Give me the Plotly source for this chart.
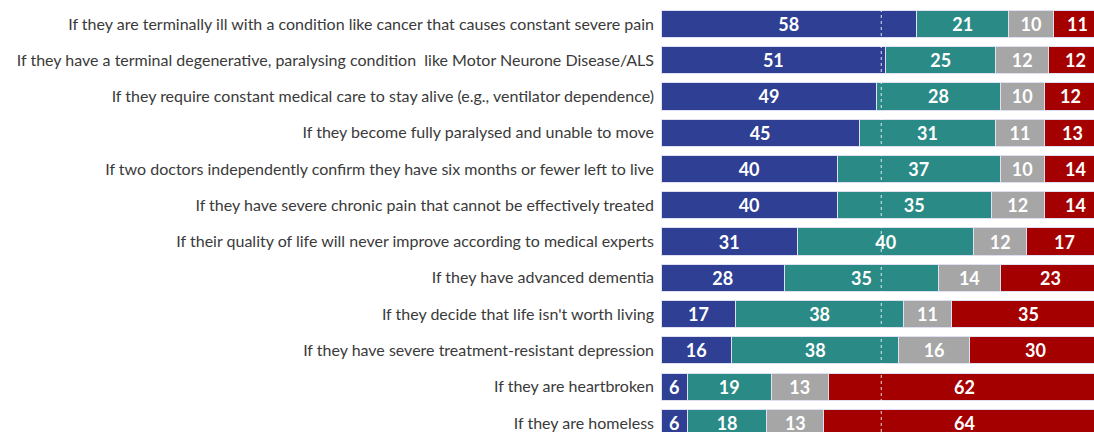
import plotly.graph_objects as go

# Conditions (top to bottom)
conditions = [
    "If they are terminally ill with a condition like cancer that causes constant severe pain",
    "If they have a terminal degenerative, paralysing condition \u00a0like Motor Neurone Disease/ALS",
    "If they require constant medical care to stay alive (e.g., ventilator dependence)",
    "If they become fully paralysed and unable to move",
    "If two doctors independently confirm they have six months or fewer left to live",
    "If they have severe chronic pain that cannot be effectively treated",
    "If their quality of life will never improve according to medical experts",
    "If they have advanced dementia",
    "If they decide that life isn't worth living",
    "If they have severe treatment-resistant depression",
    "If they are heartbroken",
    "If they are homeless",
]

blue_vals = [58, 51, 49, 45, 40, 40, 31, 28, 17, 16, 6, 6]
teal_vals = [21, 25, 28, 31, 37, 35, 40, 35, 38, 38, 19, 18]
grey_vals = [10, 12, 10, 11, 10, 12, 12, 14, 11, 16, 13, 13]
red_vals = [11, 12, 12, 13, 14, 14, 17, 23, 35, 30, 62, 64]

series = [
    (blue_vals, '#2e3f94'),
    (teal_vals, '#2a8a86'),
    (grey_vals, '#a6a6a6'),
    (red_vals, '#a50000'),
]

num_font = dict(family='Lato', size=18, color='white', weight='bold')

fig = go.Figure()
for i, (vals, color) in enumerate(series):
    last = i == len(series) - 1
    fig.add_trace(go.Bar(
        y=conditions,
        x=vals,
        orientation='h',
        marker=dict(color=color, line=dict(color='#dfe1f2', width=1)),
        text=None if last else [str(v) for v in vals],
        textposition='inside',
        insidetextanchor='middle',
        textangle=0,
        constraintext='none',
        textfont=num_font,
        hoverinfo='skip',
        showlegend=False,
    ))

# the red segment runs off the right edge, so its labels go on as annotations
for cond, b, t, g, r in zip(conditions, blue_vals, teal_vals, grey_vals, red_vals):
    fig.add_annotation(
        x=b + t + g + r / 2, y=cond, text=str(r),
        showarrow=False, font=num_font,
        xanchor='center', yanchor='middle',
    )

# dotted midline at 50%
fig.add_shape(
    type='line', x0=50, x1=50, y0=0, y1=1, yref='paper',
    line=dict(color='rgba(255,255,255,0.85)', width=1, dash='dot'),
    layer='above',
)

fig.update_layout(
    width=1094,
    height=432,
    barmode='stack',
    bargap=0.25,
    margin=dict(l=661, r=0, t=0, b=0),
    plot_bgcolor='white',
    paper_bgcolor='white',
    xaxis=dict(range=[0, 98.3], visible=False, fixedrange=True),
    yaxis=dict(
        range=[11.25, -0.66],
        showgrid=False,
        zeroline=False,
        ticks='',
        ticklabelstandoff=6,
        tickfont=dict(family='Lato', size=16, color='#3a3a3a'),
    ),
    font=dict(family='Lato'),
)

fig.write_html(
    "out.html",
    config={'displayModeBar': False},
    post_script="document.body.style.margin='0';",
)
